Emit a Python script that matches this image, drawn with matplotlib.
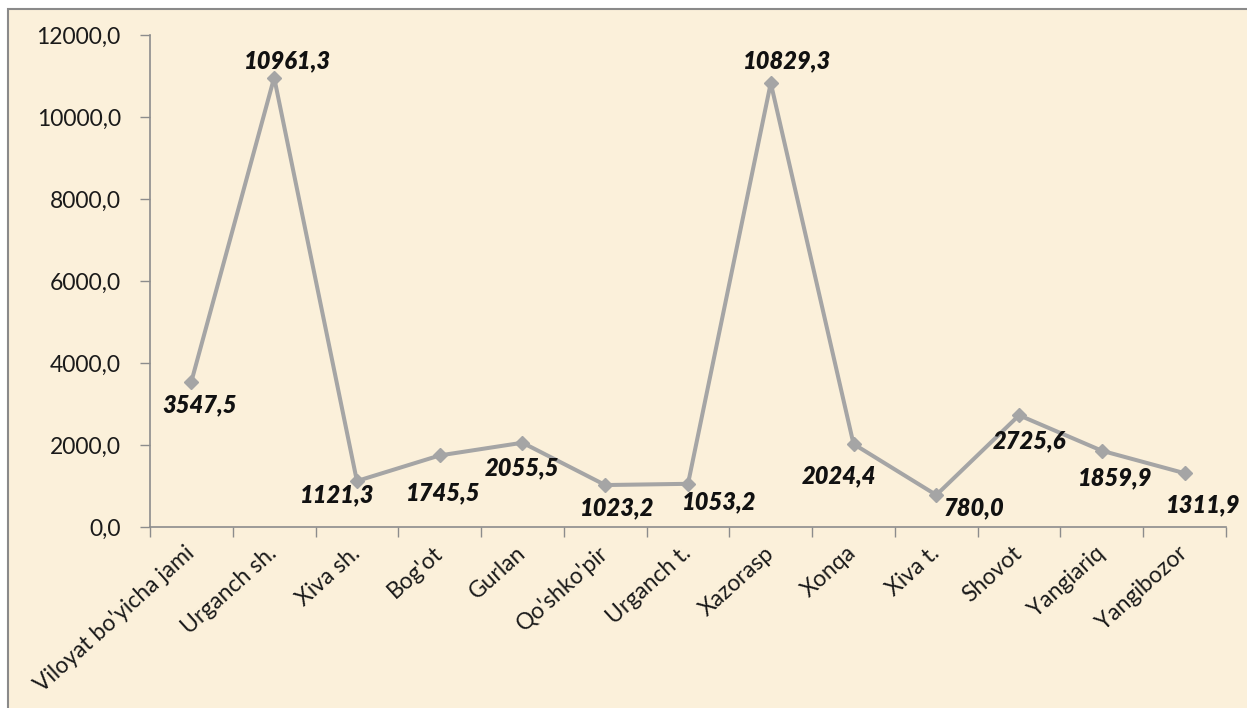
import matplotlib
matplotlib.use("Agg")
import matplotlib.pyplot as plt
import matplotlib.transforms as mtransforms
from matplotlib.patches import Rectangle
from matplotlib.ticker import FixedLocator, FuncFormatter

categories = ["Viloyat bo'yicha jami", "Urganch sh.", "Xiva sh.", "Bog'ot", "Gurlan",
              "Qo'shko'pir", "Urganch t.", "Xazorasp", "Xonqa", "Xiva t.", "Shovot",
              "Yangiariq", "Yangibozor"]
values = [3547.5, 10961.3, 1121.3, 1745.5, 2055.5, 1023.2, 1053.2, 10829.3,
          2024.4, 780.0, 2725.6, 1859.9, 1311.9]
yticks = [0, 2000, 4000, 6000, 8000, 10000, 12000]

# label offsets in pixels (dx, dy)
label_offsets = [(8, -23), (13, 17), (-20, -14), (3, -37), (0, -25), (12, -23),
                 (31, -18), (16, 22), (-15, -32), (38, -13), (10, -26), (13, -27),
                 (19, -32)]

BG = "#FBF0DA"
LINE = "#A5A5A5"
AXC = "#8C8C8C"
FONT = ["Lato", "DejaVu Sans"]

fig = plt.figure(figsize=(12.47, 7.08), dpi=100, facecolor="white")
bg = Rectangle((8 / 1247, -0.05), 1.1, 1 - 9 / 708 + 0.05,
               transform=fig.transFigure, facecolor=BG,
               edgecolor="#8A8A8A", linewidth=1.5, zorder=-10)
fig.add_artist(bg)

ax = fig.add_axes([150 / 1247, 1 - 527 / 708, (1226 - 150) / 1247, (527 - 35) / 708])
ax.set_facecolor("none")
ax.set_zorder(1)

x = list(range(len(categories)))
ax.plot(x, values, color=LINE, linewidth=2.9, marker="D", markersize=7,
        markerfacecolor=LINE, markeredgecolor=LINE, zorder=3)

for xi, v, (dx, dy) in zip(x, values, label_offsets):
    ax.annotate(f"{v:.1f}".replace(".", ","), (xi, v), xytext=(dx, dy),
                textcoords="offset pixels", ha="center", va="center",
                fontsize=17, fontweight="heavy", fontstyle="italic",
                family=FONT, color="#111111", zorder=4)

ax.set_xlim(-0.5, len(categories) - 0.5)
ax.set_ylim(0, 12000)
ax.set_yticks(yticks)
ax.yaxis.set_major_formatter(FuncFormatter(lambda v, p: f"{v:.1f}".replace(".", ",")))

ax.set_xticks(x)
ax.set_xticklabels(categories)
ax.xaxis.set_minor_locator(FixedLocator([i - 0.5 for i in range(len(categories) + 1)]))
ax.tick_params(axis="x", which="major", length=0, pad=11)
ax.tick_params(axis="x", which="minor", length=7, color=AXC, width=1, direction="out")
ax.tick_params(axis="y", length=7, color=AXC, width=1, pad=14)

for lab in ax.get_xticklabels():
    lab.set_rotation(42)
    lab.set_ha("right")
    lab.set_fontsize(16.5)
    lab.set_family(FONT)
    lab.set_color("#1a1a1a")
    lab.set_transform(lab.get_transform() + mtransforms.ScaledTranslation(7 / 100, 0, fig.dpi_scale_trans))
for lab in ax.get_yticklabels():
    lab.set_fontsize(16.5)
    lab.set_family(FONT)
    lab.set_color("#1a1a1a")

for s in ["top", "right"]:
    ax.spines[s].set_visible(False)
for s in ["left", "bottom"]:
    ax.spines[s].set_color(AXC)
    ax.spines[s].set_linewidth(1.2)

fig.savefig("out.png", dpi=100, facecolor="white")
